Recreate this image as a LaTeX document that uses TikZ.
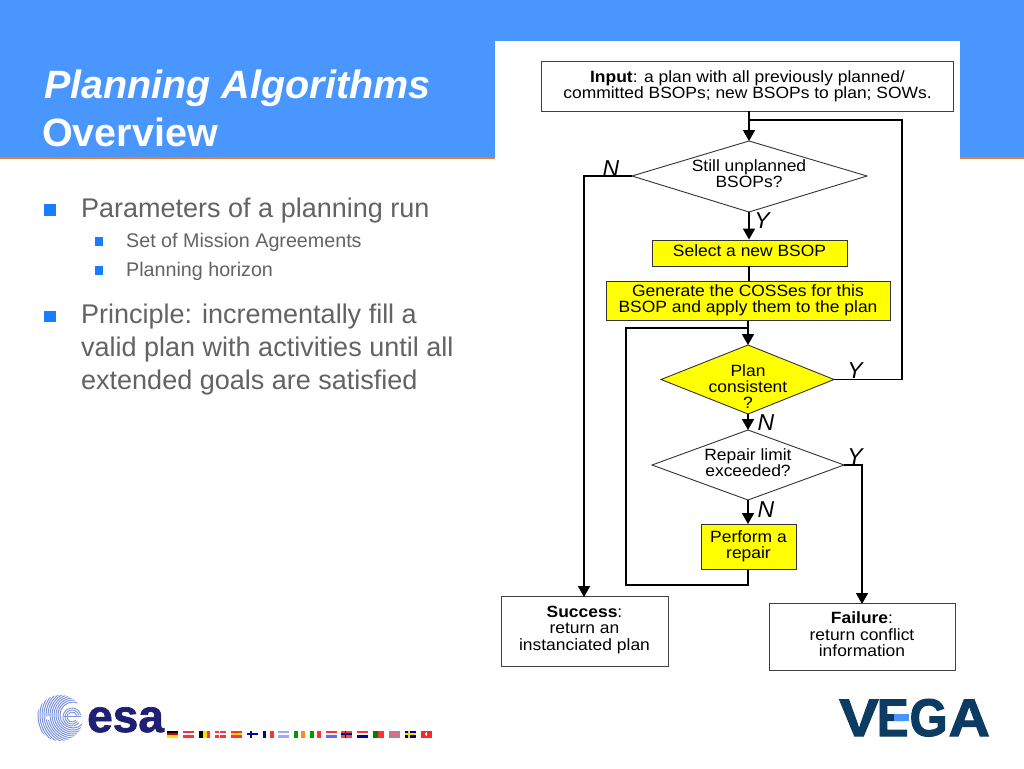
\documentclass[tikz,border=0pt]{standalone}
\usepackage{fontspec}
\setmainfont{Liberation Sans}
\newfontfamily\fcf[FakeStretch=1.07]{Liberation Sans}
\newfontfamily\vegaf[UprightFont={* Bold},FakeBold=2]{Liberation Sans}
\newfontfamily\esaf[UprightFont={* Bold},FakeBold=1.5]{Liberation Sans}
\usetikzlibrary{arrows.meta,shapes.geometric}
\definecolor{band}{HTML}{4A96FF}
\definecolor{rule}{HTML}{E08030}
\definecolor{bodytxt}{HTML}{636363}
\definecolor{bullet}{HTML}{1A7DFF}
\definecolor{esanavy}{HTML}{1F1F75}
\definecolor{esaline}{HTML}{7C94E0}
\definecolor{vega}{HTML}{0C3C62}
\definecolor{fy}{HTML}{FFFF00}
\tikzset{
 x=1pt,y=-1pt,
 fc/.style={font=\fontsize{16.3}{16}\fcf,align=center,text=black,inner sep=0pt},
 conn/.style={draw=black,line width=1.6pt},
 arr/.style={conn,-{Triangle[length=11pt,width=12pt]}},
 lab/.style={font=\fontsize{23}{23}\selectfont\itshape,inner sep=0pt,text=black},
 hd/.style={anchor=west,inner sep=0pt,text=white},
 t1/.style={anchor=north west,align=left,inner sep=0pt,text=bodytxt,font=\fontsize{27}{32.7}\selectfont},
 t2/.style={anchor=west,inner sep=0pt,text=bodytxt,font=\fontsize{19.7}{20}\selectfont},
}
\newcommand{\flagH}[4]{\fill[#2] (#1,733) rectangle +(11,2.4);\fill[#3] (#1,735.4) rectangle +(11,2.3);\fill[#4] (#1,737.7) rectangle +(11,2.4);}
\newcommand{\flagV}[4]{\fill[#2] (#1,733) rectangle +(3.7,7);\fill[#3] (#1+3.7,733) rectangle +(3.6,7);\fill[#4] (#1+7.3,733) rectangle +(3.7,7);}
\begin{document}
\begin{tikzpicture}
\useasboundingbox (0,0) rectangle (1024,768);
\fill[white] (0,0) rectangle (1024,768);
\fill[band] (0,0) rectangle (1024,157);
\fill[rule] (0,156.8) rectangle (1024,159);
\fill[white] (495,41) rectangle (960,160);
% titles
\node[hd,font=\fontsize{39.5}{39.5}\selectfont\bfseries\itshape] (title) at (44,88) {Planning Algorithms};
\node[hd,font=\fontsize{39.5}{39.5}\selectfont\bfseries] (sub) at (42,132.5) {Overview};
% body
\fill[bullet] (44,203.5) rectangle (55.5,215.5);
\node[t2,font=\fontsize{27}{27}\selectfont] (p1) at (81,210.5) {Parameters of a planning run};
\fill[bullet] (95,237) rectangle (103,246);
\node[t2] (p2) at (126,242.5) {Set of Mission Agreements};
\fill[bullet] (95,266) rectangle (103,275);
\node[t2] (p3) at (126,271.5) {Planning horizon};
\fill[bullet] (44,310.5) rectangle (55.5,322);
\node[t1] (p4) at (81,304) {Principle: incrementally fill a\\valid plan with activities until all\\extended goals are satisfied};
% flowchart nodes
\node[fc,draw=black!75,line width=.9pt,fill=white,minimum width=412pt,minimum height=50pt] (input) at (747.5,86) {\textbf{Input}: a plan with all previously planned/\\committed BSOPs; new BSOPs to plan; SOWs.};
\draw[black!80,line width=.9pt,fill=white] (632,176) coordinate (d1w) -- (749,141) coordinate (d1n) -- (867,176) coordinate (d1e) -- (749,212) coordinate (d1s) -- cycle;
\node[fc] (d1t) at (749,174) {Still unplanned\\BSOPs?};
\node[fc,draw=black!80,line width=.9pt,fill=fy,minimum width=195pt,minimum height=26pt] (sel) at (749.5,253) {\raisebox{5pt}{Select a new BSOP}};
\node[fc,draw=black!80,line width=.9pt,fill=fy,minimum width=284pt,minimum height=39pt] (gen) at (748,301) {\raisebox{1pt}{\begin{tabular}{@{}c@{}}Generate the COSSes for this\\BSOP and apply them to the plan\end{tabular}}};
\draw[black!80,line width=.9pt,fill=fy] (661,379.5) coordinate (d2w) -- (748,345) coordinate (d2n) -- (834,379.5) coordinate (d2e) -- (748,414) coordinate (d2s) -- cycle;
\node[fc] (d2t) at (748,386.5) {Plan\\consistent\\?};
\draw[black!80,line width=.9pt,fill=white] (652,465) coordinate (d3w) -- (748,430) coordinate (d3n) -- (844,465) coordinate (d3e) -- (748,500) coordinate (d3s) -- cycle;
\node[fc] (d3t) at (748,463) {Repair limit\\exceeded?};
\node[fc,draw=black!80,line width=.9pt,fill=fy,minimum width=95pt,minimum height=45pt] (rep) at (748.5,547) {\raisebox{3pt}{\begin{tabular}{@{}c@{}}Perform a\\repair\end{tabular}}};
\node[fc,draw=black!75,line width=.9pt,fill=white,minimum width=167pt,minimum height=70pt] (succ) at (584.5,631) {\raisebox{1.5pt}{\begin{tabular}{@{}c@{}}\textbf{Success}:\\return an\\instanciated plan\end{tabular}}};
\node[fc,draw=black!75,line width=.9pt,fill=white,minimum width=186pt,minimum height=67pt] (fail) at (862,636.5) {\raisebox{1.5pt}{\begin{tabular}{@{}c@{}}\textbf{Failure}:\\return conflict\\information\end{tabular}}};
% connectors
\coordinate (j1) at (749,120);
\coordinate (r1) at (902,120);
\coordinate (r2) at (902,379.5);
\coordinate (l1) at (584,176);
\coordinate (l2) at (584,597);
\coordinate (j2) at (748,328);
\coordinate (b1) at (626,328);
\coordinate (b2) at (626,585);
\coordinate (b3) at (748,585);
\coordinate (f1) at (862,465);
\coordinate (f2) at (862,604);
\draw[arr] (input.south -| d1n) -- (d1n);
\draw[arr] (d1s) -- (sel.north -| d1s);
\draw[conn] (sel.south -| d1s) -- (gen.north -| d1s);
\draw[arr] (gen.south -| d2n) -- (d2n);
\draw[arr] (d2s) -- (d3n);
\draw[arr] (d3s) -- (rep.north -| d3s);
\draw[conn] (d2e) -- (r2) -- (r1) -- (j1);
\draw[arr] (d1w) -- (l1) -- (l2);
\draw[conn] (rep.south -| b3) -- (b3) -- (b2) -- (b1) -- (j2);
\draw[arr] (d3e) -- (f1) -- (f2);
% labels
\node[lab] (n1) at (611,169) {N};
\node[lab] (y1) at (762,221) {Y};
\node[lab] (y2) at (855,371) {Y};
\node[lab] (n2) at (766,423) {N};
\node[lab] (y3) at (855,457) {Y};
\node[lab] (n3) at (766,510) {N};
% ESA logo
\begin{scope}
 \clip (60,718) circle[radius=23];
 \foreach \r in {13,15,...,45}{
   \draw[esaline,line width=1pt] (73,715) circle[radius=\r];
 }
\end{scope}
\fill[white] (48,718) circle[radius=2];
\foreach \r in {5,7,9}{\draw[esaline,line width=.9pt] (72,717)++(-15:\r) arc[start angle=-15,end angle=-320,radius=\r];}
\draw[esaline,line width=.9pt] (64,716) -- (81,716);
\node[inner sep=0pt,anchor=base west,text=esanavy,font=\fontsize{46}{46}\esaf] (esa) at (87,732) {esa};
% flags
\begin{scope}[yshift=2.5pt]
\flagH{167.3}{black}{red!80!black}{yellow!80!orange}
\flagH{183.3}{red!80}{white}{red!80}
\flagV{199.3}{black}{yellow!80!orange}{red!80}
\fill[red!80] (215,733) rectangle +(11,7);\fill[white] (215,735.8) rectangle +(11,1.4);\fill[white] (218.5,733) rectangle +(1.4,7);
\flagH{231}{red!80}{yellow!80!orange}{red!80}
\fill[white] (246.7,733) rectangle +(11,7);\fill[blue!70!black] (246.7,735.8) rectangle +(11,1.4);\fill[blue!70!black] (250.2,733) rectangle +(1.4,7);
\flagV{262.7}{blue!70!black}{white}{red!80}
\flagH{278.3}{blue!35}{white}{blue!35}
\flagV{294}{green!60!black}{white}{orange!90}
\flagV{310}{green!60!black}{white}{red!80}
\flagH{325.7}{red!80}{white}{blue!60}
\fill[red!75] (341.3,733) rectangle +(11,7);\fill[blue!60!black] (341.3,735.8) rectangle +(11,1.4);\fill[blue!60!black] (344.8,733) rectangle +(1.4,7);
\flagH{357.3}{red!80}{white}{blue!70!black}
\fill[red!80] (373.3,733) rectangle +(11,7);\fill[green!50!black] (373.3,733) rectangle +(4.5,7);
\fill[blue!30!gray!70] (388.5,733) rectangle +(11,7);\draw[red!60,line width=1pt] (388.5,736.5) -- +(11,0) (394,733) -- +(0,7);
\fill[blue!60!black] (404.7,733) rectangle +(11,7);\fill[yellow!80!orange] (404.7,735.8) rectangle +(11,1.4);\fill[yellow!80!orange] (408.2,733) rectangle +(1.4,7);
\fill[red!85] (420.7,733) rectangle +(11,7);\fill[white] (425.1,735.8) rectangle +(2.2,1.4);\fill[white] (425.5,734.8) rectangle +(1.4,3.4);
\end{scope}
% VEGA
\node[inner sep=0pt,anchor=base west,text=vega,font=\fontsize{53}{53}\vegaf] (vegat) at (839,736) {\scalebox{1.12}[1]{V}\kern-2pt\scalebox{.9}[1]{E}\kern1pt\scalebox{.92}[1]{G}\kern1pt\scalebox{1.08}[1]{A}};
\fill[band] (894,714) rectangle (909,721);
\end{tikzpicture}
\end{document}
